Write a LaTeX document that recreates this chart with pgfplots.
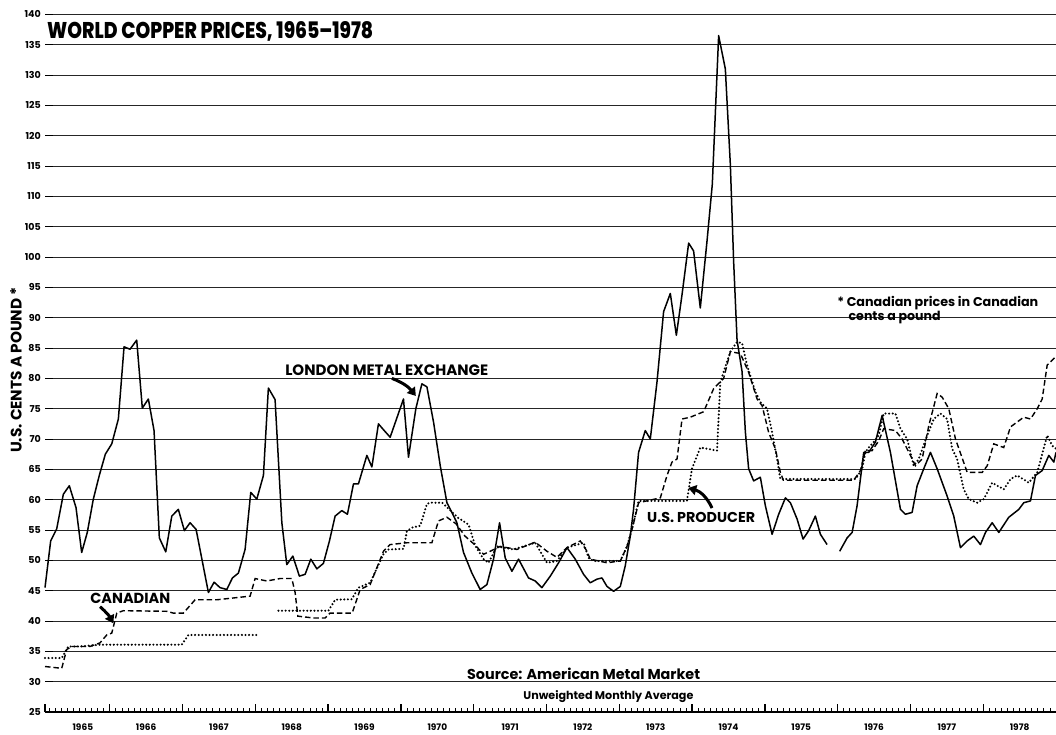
\documentclass[border=0pt]{standalone}
\usepackage{pgfplots}
\pgfplotsset{compat=1.18}
\usepackage{graphicx}
\usepackage{fontspec}
\setmainfont{Poppins}
\IfFontExistsTF{Poppins ExtraBold}{\newfontfamily\heavy{Poppins ExtraBold}[Ligatures=TeX]}{\newfontfamily\heavy{Poppins}[UprightFont=*-Bold,Ligatures=TeX]}
\usetikzlibrary{arrows.meta}
\tikzset{yr/.style={anchor=base, inner sep=0pt, yshift=-18pt, font=\bfseries\fontsize{9}{10}\selectfont}}

\begin{document}
\begin{tikzpicture}
\path[use as bounding box] (0,0) rectangle (1056pt,734pt);
\begin{axis}[
  at={(45pt,22pt)}, anchor=south west,
  scale only axis, width=1011pt, height=697.6pt,
  xmin=1965.11, xmax=1979, ymin=25, ymax=140,
  axis line style={draw=none},
  xtick pos=left, ytick pos=left,
  ytick={25,30,...,140},
  ymajorgrids, grid style={black!85, line width=1pt},
  extra y ticks={25},
  extra y tick labels={},
  extra y tick style={grid=major, major grid style={black, line width=1.8pt}},
  xtick={1966,1967,...,1978},
  xticklabels={,,,,,,,,,,,,,},
  minor x tick num=11,
  tick align=inside,
  major tick length=8pt, minor tick length=4pt,
  every tick/.append style={black, line width=1pt},
  /pgf/number format/assume math mode=true,
  yticklabel style={font=\bfseries\fontsize{9.5}{10}\selectfont, inner sep=0pt, anchor=east, xshift=-4pt},
  clip=false,
]
% London Metal Exchange (solid)
\addplot[black, line width=1.5pt, line join=round] coordinates {
(1965.110,45.5)(1965.188,53.2)(1965.271,55.2)(1965.362,60.9)(1965.444,62.3)(1965.536,58.7)(1965.614,51.3)(1965.691,54.6)(1965.774,60.1)(1965.856,64.0)(1965.939,67.5)(1966.027,69.2)(1966.118,73.3)(1966.196,85.2)(1966.278,84.8)(1966.370,86.3)(1966.447,75.1)(1966.530,76.6)(1966.608,71.4)(1966.681,53.7)(1966.769,51.4)(1966.852,57.3)(1966.942,58.4)(1967.025,54.9)(1967.103,56.2)(1967.186,55.1)(1967.355,44.7)(1967.433,46.4)(1967.515,45.5)(1967.608,45.2)(1967.685,47.1)(1967.767,47.9)(1967.859,51.8)(1967.937,61.2)(1968.020,60.1)(1968.111,64.0)(1968.179,78.4)(1968.271,76.5)(1968.364,56.2)(1968.432,49.3)(1968.515,50.7)(1968.605,47.4)(1968.684,47.7)(1968.762,50.2)(1968.845,48.6)(1968.935,49.5)(1969.018,53.2)(1969.096,57.3)(1969.188,58.2)(1969.265,57.6)(1969.348,62.6)(1969.416,62.6)(1969.532,67.3)(1969.601,65.4)(1969.691,72.5)(1969.770,71.4)(1969.852,70.3)(1970.035,76.6)(1970.104,67.0)(1970.205,75.0)(1970.288,79.1)(1970.357,78.6)(1970.448,72.8)(1970.540,65.6)(1970.632,59.5)(1970.700,57.9)(1970.769,56.2)(1970.860,51.3)(1970.975,47.9)(1971.089,45.2)(1971.181,46.0)(1971.272,50.2)(1971.355,56.2)(1971.433,50.4)(1971.525,48.2)(1971.616,50.2)(1971.753,47.1)(1971.845,46.6)(1971.937,45.5)(1972.052,47.4)(1972.166,49.6)(1972.281,52.1)(1972.395,50.2)(1972.509,47.7)(1972.601,46.3)(1972.693,46.9)(1972.762,47.1)(1972.831,45.7)(1972.922,44.9)(1973.014,45.7)(1973.082,49.1)(1973.151,54.0)(1973.196,58.4)(1973.265,67.8)(1973.357,71.4)(1973.426,70.0)(1973.518,79.4)(1973.609,91.0)(1973.701,94.0)(1973.784,87.1)(1973.862,93.8)(1973.953,102.3)(1974.021,101.0)(1974.113,91.6)(1974.205,102.6)(1974.278,112.0)(1974.365,136.5)(1974.457,131.0)(1974.526,115.2)(1974.571,99.3)(1974.618,86.3)(1974.687,81.1)(1974.732,71.2)(1974.777,65.1)(1974.846,63.1)(1974.938,63.7)(1975.007,59.0)(1975.099,54.3)(1975.190,57.6)(1975.282,60.3)(1975.351,59.5)(1975.443,56.8)(1975.525,53.5)(1975.602,54.9)(1975.694,57.3)(1975.763,54.3)(1975.855,52.6)
};
\addplot[black, line width=1.5pt, line join=round] coordinates {
(1976.028,51.5)(1976.130,53.7)(1976.199,54.6)(1976.267,59.0)(1976.358,67.8)(1976.427,67.8)(1976.519,69.5)(1976.611,73.9)(1976.725,67.8)(1976.863,58.4)(1976.931,57.6)(1977.023,57.9)(1977.092,62.3)(1977.183,65.1)(1977.275,67.8)(1977.367,65.1)(1977.504,60.6)(1977.595,57.3)(1977.687,52.1)(1977.780,53.2)(1977.870,54.0)(1977.962,52.6)(1978.031,54.6)(1978.123,56.2)(1978.214,54.6)(1978.351,57.1)(1978.489,58.4)(1978.557,59.5)(1978.649,59.8)(1978.718,64.0)(1978.810,64.8)(1978.901,67.3)(1978.970,66.2)(1979.0,67.8)
};
% Canadian (dashed)
\addplot[black, line width=1.4pt, dash pattern=on 5.5pt off 3pt] coordinates {
(1965.110,32.5)(1965.340,32.2)(1965.408,35.3)(1965.477,35.8)(1965.729,35.8)(1965.866,36.4)(1965.958,37.7)(1966.027,38.0)(1966.096,41.3)(1966.186,41.7)(1966.783,41.6)(1966.874,41.3)(1967.011,41.3)(1967.172,43.5)(1967.470,43.5)(1967.928,44.1)(1967.997,47.0)(1968.157,46.6)(1968.340,47.0)(1968.501,47.0)(1968.546,44.7)(1968.584,40.8)(1968.798,40.5)(1968.959,40.5)(1969.027,41.3)(1969.330,41.3)(1969.440,45.2)(1969.577,46.0)(1969.760,51.5)(1969.852,52.6)(1970.082,52.9)(1970.425,52.9)(1970.516,56.5)(1970.632,57.1)(1970.760,56.0)(1970.880,54.0)(1971.021,52.5)(1971.135,51.0)(1971.227,51.5)(1971.364,52.3)(1971.594,51.8)(1971.845,53.0)(1972.006,51.5)(1972.143,50.5)(1972.281,52.1)(1972.464,53.2)(1972.556,51.5)(1972.601,50.2)(1972.831,49.6)(1973.014,49.9)(1973.106,52.3)(1973.175,55.1)(1973.265,59.5)(1973.564,60.3)(1973.656,64.0)(1973.724,66.2)(1973.793,66.7)(1973.862,73.3)(1973.976,73.6)(1974.159,74.5)(1974.296,78.3)(1974.434,80.0)(1974.526,84.4)(1974.663,84.1)(1974.777,81.0)(1974.893,76.6)(1974.962,75.5)(1975.052,71.1)(1975.144,68.4)(1975.213,64.5)(1975.254,63.2)(1976.221,63.2)(1976.313,64.8)(1976.381,68.1)(1976.474,68.1)(1976.564,69.7)(1976.633,71.7)(1976.794,71.4)(1976.886,70.0)(1977.000,67.3)(1977.069,65.6)(1977.161,66.7)(1977.252,72.2)(1977.367,77.5)(1977.436,76.9)(1977.527,75.0)(1977.619,70.0)(1977.780,64.5)(1977.986,64.5)(1978.055,65.6)(1978.145,69.2)(1978.282,68.6)(1978.375,72.0)(1978.557,73.6)(1978.649,73.3)(1978.742,75.0)(1978.810,76.6)(1978.879,82.2)(1978.948,83.0)(1979.0,83.6)
};
% U.S. Producer (dotted)
\addplot[black, line width=2.3pt, line cap=round, dash pattern=on 0pt off 3.6pt] coordinates {
(1965.110,33.9)(1965.340,33.9)(1965.430,35.8)(1965.591,35.8)(1965.866,36.1)(1966.989,36.1)(1967.080,37.7)(1968.020,37.7)
};
\addplot[black, line width=2.3pt, line cap=round, dash pattern=on 0pt off 3.6pt] coordinates {
(1968.317,41.7)(1969.004,41.7)(1969.096,43.5)(1969.326,43.6)(1969.416,45.5)(1969.577,46.3)(1969.760,51.0)(1969.829,51.8)(1970.035,51.9)(1970.082,54.8)(1970.151,55.4)(1970.265,55.7)(1970.357,59.3)(1970.402,59.5)(1970.567,59.5)(1970.787,57.0)(1970.929,55.9)(1971.021,52.4)(1971.135,50.2)(1971.203,49.6)(1971.319,52.3)(1971.547,51.8)(1971.845,52.9)(1972.006,49.6)(1972.143,49.9)(1972.281,52.1)(1972.509,52.9)(1972.578,50.4)(1972.647,49.9)(1973.014,49.9)(1973.106,52.3)(1973.196,56.2)(1973.265,59.8)(1973.930,59.8)(1973.999,65.1)(1974.113,68.6)(1974.343,68.1)(1974.388,79.4)(1974.526,84.4)(1974.618,86.0)(1974.687,85.8)(1974.755,82.2)(1974.869,77.8)(1974.938,76.1)(1975.030,75.0)(1975.099,71.1)(1975.168,66.7)(1975.213,63.4)(1976.244,63.4)(1976.336,65.0)(1976.381,67.8)(1976.427,68.6)(1976.496,69.5)(1976.564,70.6)(1976.633,74.2)(1976.794,74.2)(1976.863,71.7)(1976.955,70.0)(1977.045,65.6)(1977.114,66.7)(1977.230,70.6)(1977.320,73.3)(1977.412,74.2)(1977.504,73.3)(1977.573,68.4)(1977.642,66.7)(1977.732,61.7)(1977.801,60.1)(1977.917,59.5)(1978.008,60.1)(1978.123,62.8)(1978.282,61.7)(1978.375,63.4)(1978.467,64.0)(1978.626,62.8)(1978.742,64.5)(1978.879,70.6)(1978.948,68.9)(1979.0,68.4)
};
% Monthly and yearly tick marks on the time axis
\pgfplotsinvokeforeach{2,...,167}{
  \draw[black, line width=0.8pt] (axis cs:{1965+#1/12},25) -- ([yshift=4pt]axis cs:{1965+#1/12},25);
}
\pgfplotsinvokeforeach{1966,...,1978}{
  \draw[black, line width=1.3pt] (axis cs:#1,25) -- ([yshift=8pt]axis cs:#1,25);
}
\draw[black, line width=1.3pt] (axis cs:1965.11,25) -- ([yshift=8pt]axis cs:1965.11,25);
% Year labels
\node[yr] at (axis cs:1965.63,25) {1965};
\node[yr] at (axis cs:1966.5,25) {1966};
\node[yr] at (axis cs:1967.5,25) {1967};
\node[yr] at (axis cs:1968.5,25) {1968};
\node[yr] at (axis cs:1969.5,25) {1969};
\node[yr] at (axis cs:1970.5,25) {1970};
\node[yr] at (axis cs:1971.5,25) {1971};
\node[yr] at (axis cs:1972.5,25) {1972};
\node[yr] at (axis cs:1973.5,25) {1973};
\node[yr] at (axis cs:1974.5,25) {1974};
\node[yr] at (axis cs:1975.5,25) {1975};
\node[yr] at (axis cs:1976.5,25) {1976};
\node[yr] at (axis cs:1977.5,25) {1977};
\node[yr] at (axis cs:1978.5,25) {1978};
% Texts
\node[anchor=base west, inner sep=0pt] at (axis cs:1965.137,135.95) {\resizebox{326pt}{17pt}{\heavy WORLD COPPER PRICES, 1965\textendash 1978}};
\node[rotate=90, inner sep=0pt] at (axis cs:1964.711,81.38) {\resizebox{166pt}{!}{\bfseries U.S. CENTS A POUND *}};
\node[anchor=base west, inner sep=0pt] at (axis cs:1968.409,80.47) {\resizebox{203pt}{!}{\bfseries LONDON METAL EXCHANGE}};
\node[anchor=base west, inner sep=0pt] at (axis cs:1973.381,56.16) {\resizebox{108pt}{!}{\bfseries U.S. PRODUCER}};
\node[anchor=base west, inner sep=0pt] at (axis cs:1965.729,42.92) {\resizebox{80pt}{!}{\bfseries CANADIAN}};
\node[anchor=base west, inner sep=0pt] at (axis cs:1975.992,91.85) {\resizebox{201pt}{!}{\bfseries * Canadian prices in Canadian}};
\node[anchor=base west, inner sep=0pt] at (axis cs:1976.148,89.55) {\resizebox{92pt}{!}{\bfseries cents a pound}};
\node[anchor=base west, inner sep=0pt] at (axis cs:1970.907,30.28) {\resizebox{233pt}{!}{\bfseries Source: American Metal Market}};
\node[anchor=base west, inner sep=0pt] at (axis cs:1971.680,27.14) {\resizebox{170pt}{!}{\bfseries Unweighted Monthly Average}};
% Arrows
\draw[line width=3pt, -{Triangle[length=8pt,width=10pt]}] (axis cs:1969.876,80.0) to[bend left=15] (axis cs:1970.205,77.1);
\draw[line width=3pt, -{Triangle[length=8pt,width=10pt]}] (axis cs:1974.274,58.63) to[bend right=25] (axis cs:1973.948,61.93);
\draw[line width=3pt, -{Triangle[length=8pt,width=10pt]}] (axis cs:1965.866,42.36) to[bend left=10] (axis cs:1966.049,39.62);
\end{axis}
\end{tikzpicture}
\end{document}
